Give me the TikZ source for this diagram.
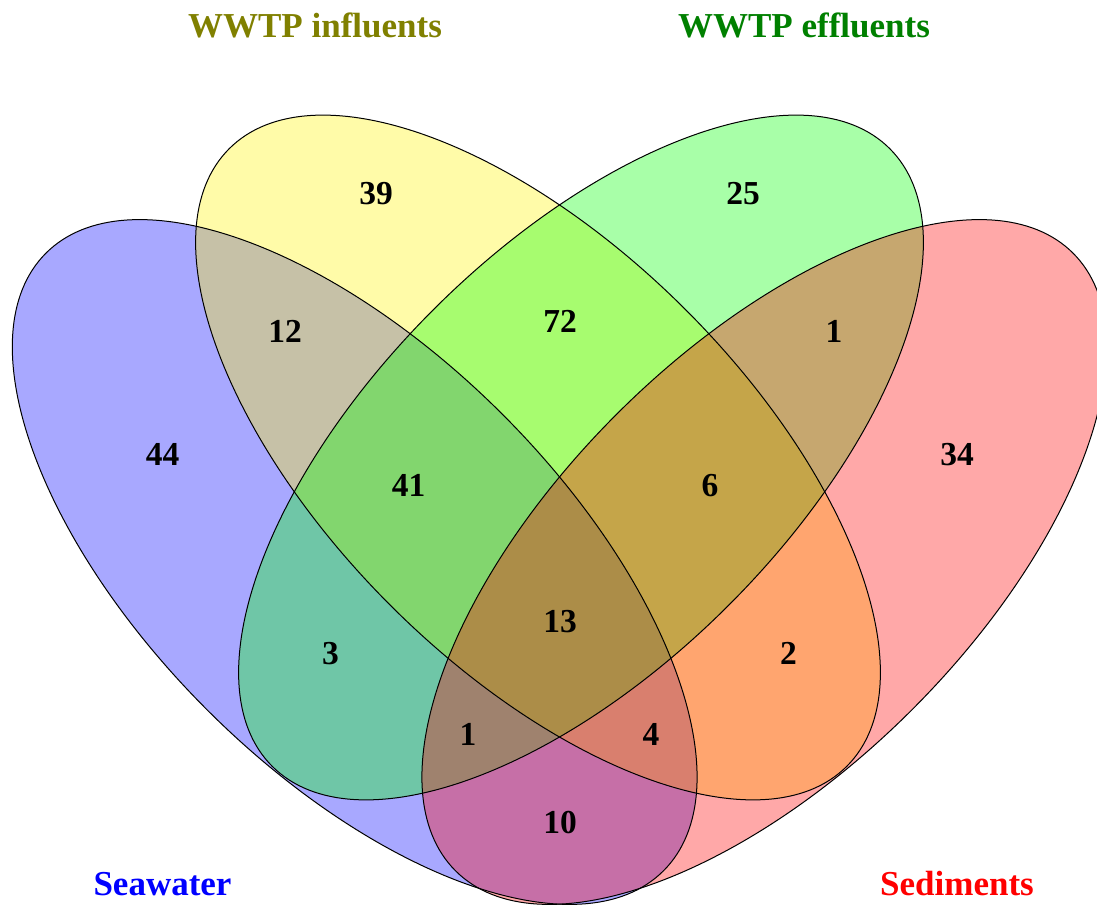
\documentclass[tikz,border=0pt]{standalone}
\usepackage{fontspec}
\setmainfont{Liberation Serif}
\definecolor{influcol}{RGB}{128,128,0}
\definecolor{efflucol}{RGB}{0,128,0}
\tikzset{
    areanum/.style={font=\fontsize{16.75}{20}\selectfont\bfseries, anchor=base, inner sep=0pt},
    setlabel/.style={font=\fontsize{17.5}{21}\selectfont\bfseries, anchor=base, inner sep=0pt},
    setedge/.style={draw=black, line width=0.5pt}
}
\begin{document}
\begin{tikzpicture}[x=0.5pt,y=0.5pt]
    \useasboundingbox (0,0) rectangle (1097,905);

    \pgfmathsetmacro{\semimajor}{436.7}
    \pgfmathsetmacro{\semiminor}{208.9}

    \foreach \cx/\cy/\tilt/\col in {354.7/343/-45/blue, 538/447.5/-45/yellow, 581/447.5/45/green, 764.3/343/45/red}{
        \fill[fill=\col, fill opacity=0.34, shift={(\cx,\cy)}, rotate=\tilt] (0,0) ellipse [x radius=\semimajor, y radius=\semiminor];
    }
    \foreach \cx/\cy/\tilt in {354.7/343/-45, 538/447.5/-45, 581/447.5/45, 764.3/343/45}{
        \draw[setedge, shift={(\cx,\cy)}, rotate=\tilt] (0,0) ellipse [x radius=\semimajor, y radius=\semiminor];
    }

    \node[setlabel, text=influcol] (influents) at (315,867) {WWTP influents};
    \node[setlabel, text=efflucol] (effluents) at (804,867) {WWTP effluents};
    \node[setlabel, text=blue] (seawater) at (162.5,10) {Seawater};
    \node[setlabel, text=red] (sediments) at (957,10) {Sediments};

    \foreach \nm/\nx/\ny/\val in {i/376/700/39, e/743/700/25, ie/560/572/72, si/285/562/12, ed/834/562/1,
        s/162.5/439/44, d/957/439/34, sie/408.5/408/41, ied/710/408/6, sied/560/272/13,
        se/330.5/240/3, id/788.5/240/2, sed/468/160/1, sid/651/160/4, sd/560/72/10}{
        \node[areanum] (area-\nm) at (\nx,\ny) {\val};
    }
\end{tikzpicture}
\end{document}
